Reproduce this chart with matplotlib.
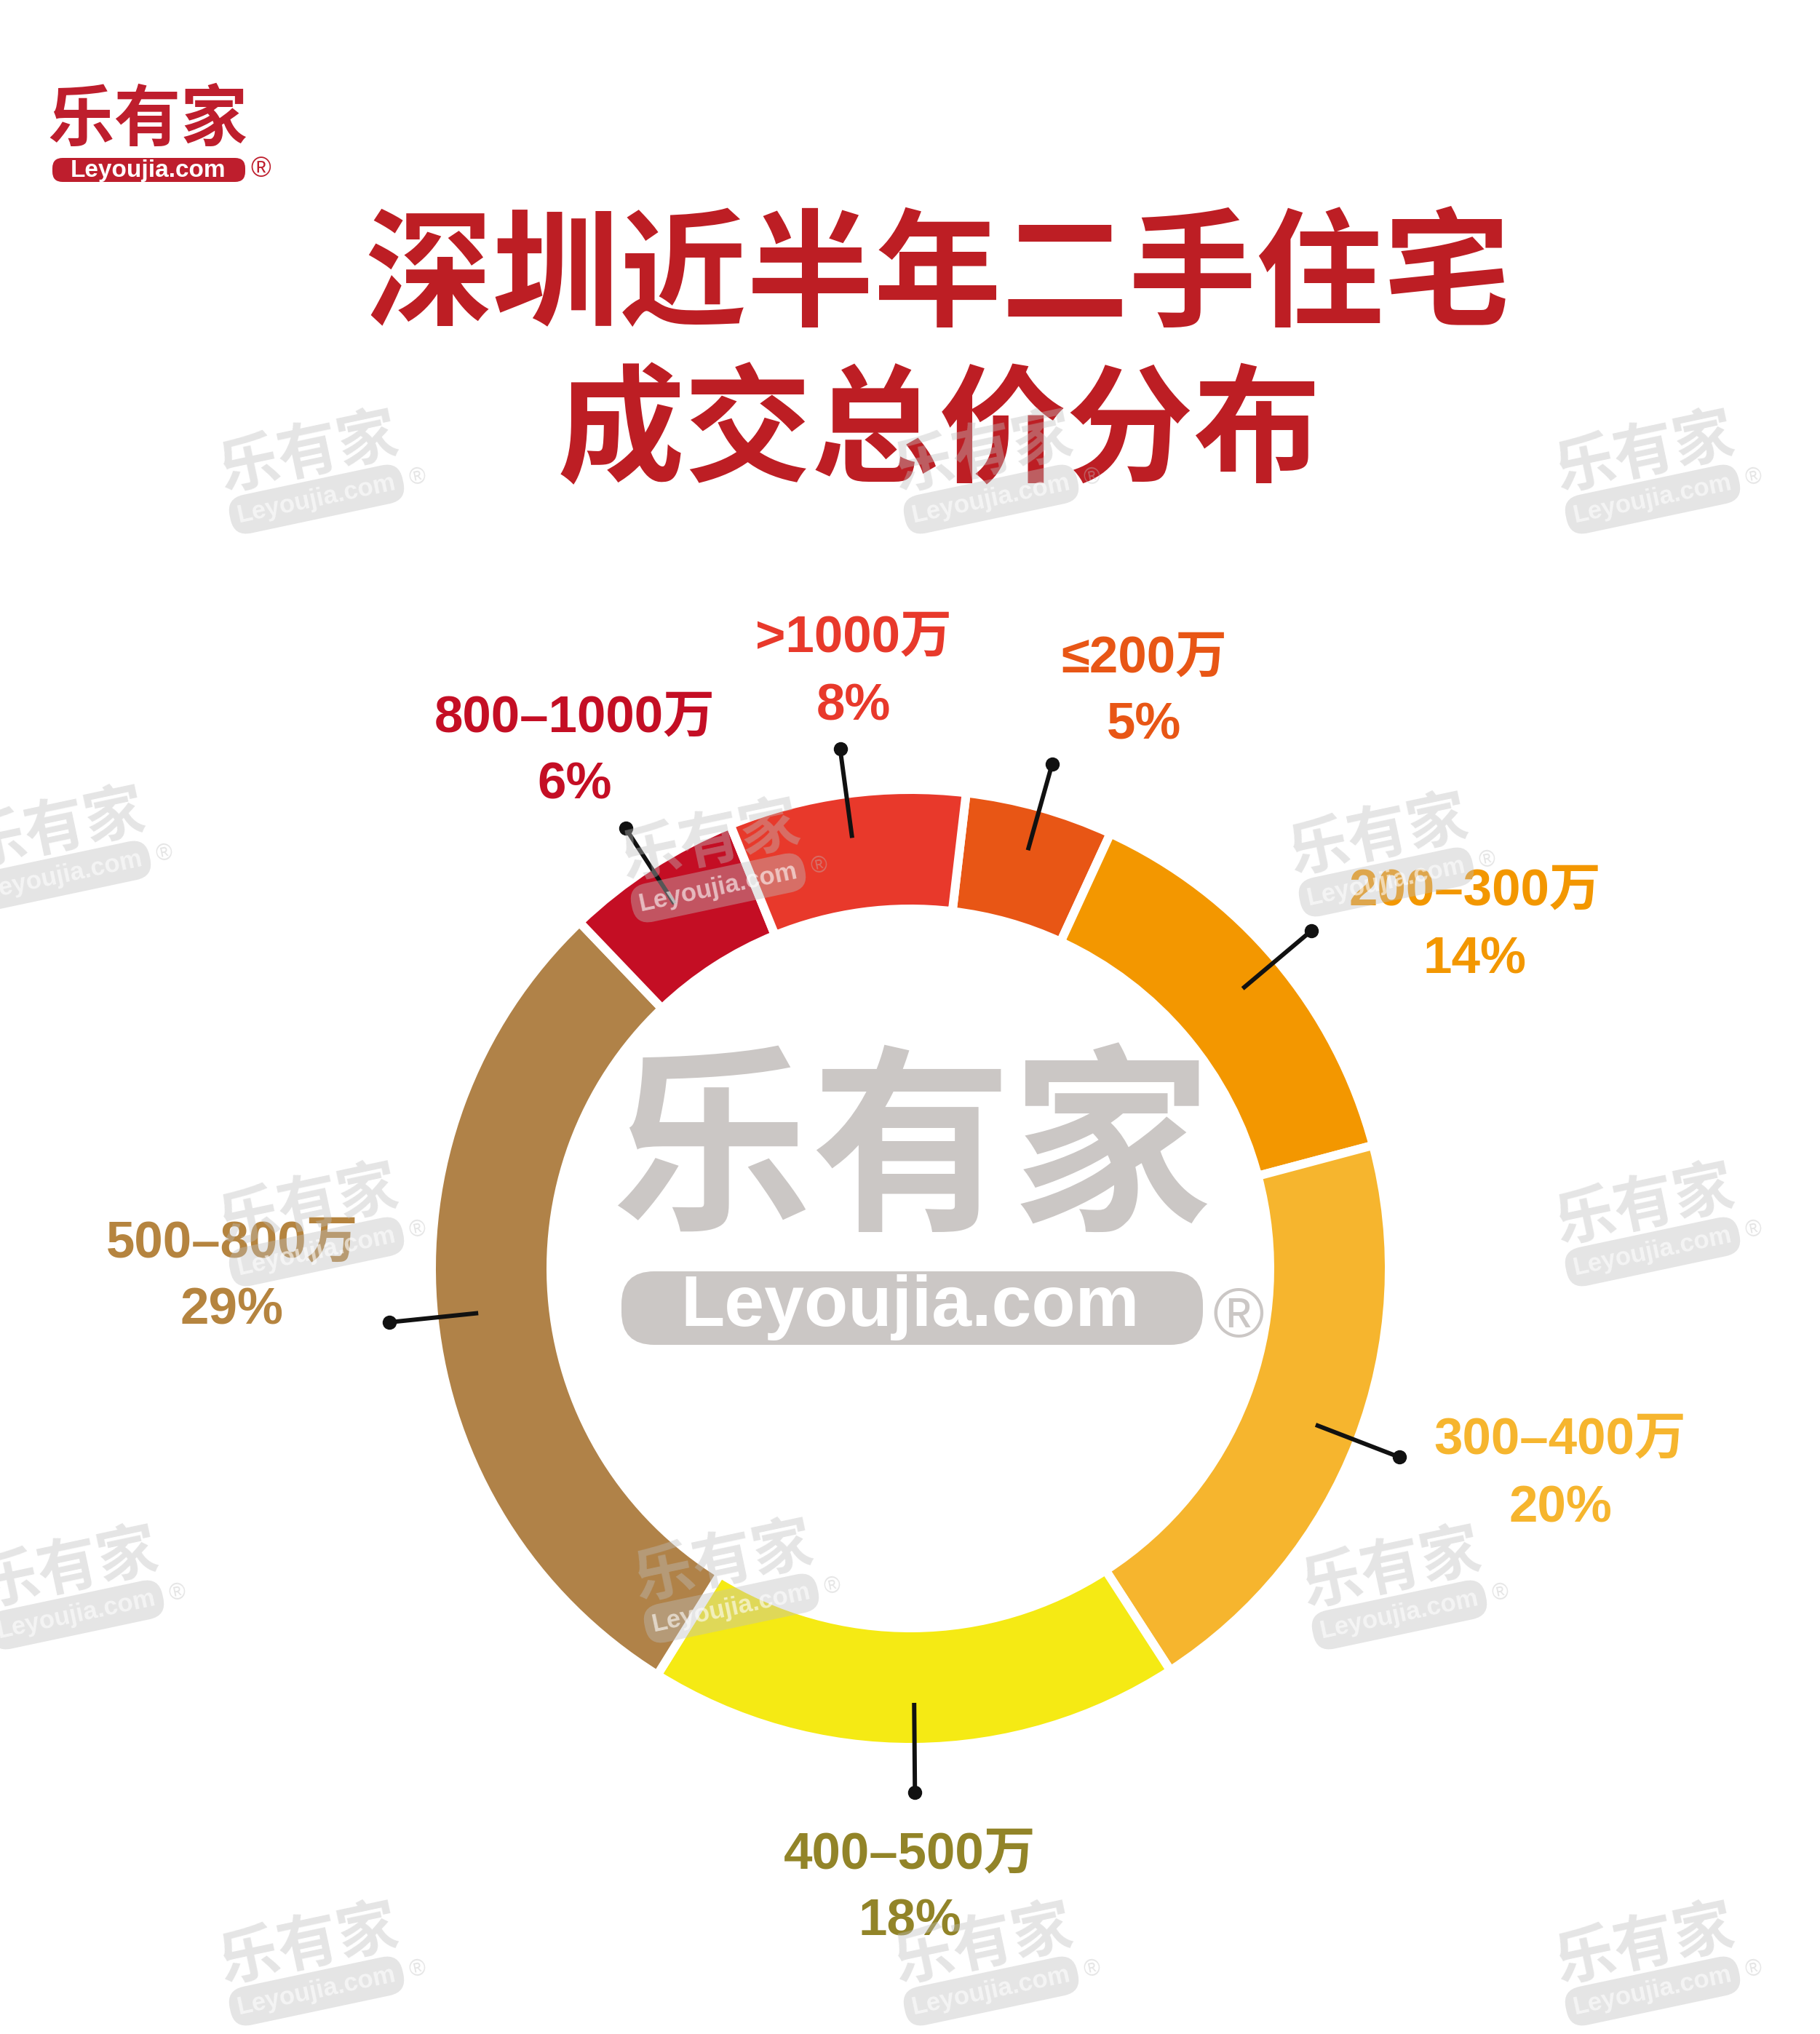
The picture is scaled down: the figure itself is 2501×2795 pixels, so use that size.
import numpy as np
import matplotlib.pyplot as plt
from matplotlib.patches import FancyBboxPatch

plt.rcParams['font.family'] = ['Liberation Sans', 'Noto Sans CJK SC']

W, H = 2501, 2795

# data, clockwise from the top
labels = ['≤200万', '200–300万', '300–400万', '400–500万', '500–800万', '800–1000万', '>1000万']
shares = [5, 14, 20, 18, 29, 6, 8]
pct_text = ['5%', '14%', '20%', '18%', '29%', '6%', '8%']
slice_colors = ['#E85615', '#F39700', '#F6B52E', '#F5EA14', '#B08248', '#C40E24', '#E8392B']
label_colors = ['#E85615', '#F39700', '#F6B52E', '#928428', '#B5843F', '#C40E24', '#E8392B']
# centre of first label line (px, y down)
label_pos = [(1572, 905), (2027, 1226), (2144, 1980), (1250, 2549), (319, 1709), (790, 987), (1173, 878)]

title1 = '深圳近半年二手住宅'
title2 = '成交总价分布'
red = '#BD1E24'


def Y(y):
    return H - y


fig = plt.figure(figsize=(W / 100, H / 100), dpi=100)
ax = fig.add_axes([0, 0, 1, 1])

cx, cy = 1251, 1743
r_out, r_in = 652, 500
gap = 12
wedges, _ = ax.pie(shares, colors=slice_colors, startangle=83.3, counterclock=False,
                   radius=r_out + gap / 2, center=(cx, Y(cy)),
                   wedgeprops=dict(width=r_out - r_in + gap, edgecolor='white', linewidth=gap * 0.72))
ax.set_xlim(0, W)
ax.set_ylim(0, H)
ax.set_aspect('equal')
ax.axis('off')

# leader lines and labels
for w, lab, pct, col, (lx, ly) in zip(wedges, labels, pct_text, label_colors, label_pos):
    a = np.deg2rad((w.theta1 + w.theta2) / 2)
    x1, y1 = cx + 597 * np.cos(a), Y(cy) + 597 * np.sin(a)
    x2, y2 = cx + 720 * np.cos(a), Y(cy) + 720 * np.sin(a)
    ax.plot([x1, x2], [y1, y2], color='#111111', lw=4.3, solid_capstyle='butt', zorder=4)
    ax.plot(x2, y2, 'o', ms=13, color='#111111', zorder=4)
    ax.text(lx, Y(ly), lab, fontsize=51, fontweight='bold', color=col, ha='center', va='center', zorder=6)
    ax.text(lx, Y(ly + 93), pct, fontsize=51, fontweight='bold', color=col, ha='center', va='center', zorder=6)

# title
ax.text(1289, Y(382), title1, fontsize=126, fontweight='heavy', color=red,
        ha='center', va='center', family='Noto Sans CJK SC')
ax.text(1291, Y(597), title2, fontsize=126, fontweight='heavy', color=red,
        ha='center', va='center', family='Noto Sans CJK SC')

# logo top left
ax.text(203, Y(166), '乐有家', fontsize=66, fontweight='bold', color='#BE1E2D',
        ha='center', va='center', family='Noto Sans CJK SC')
ax.add_patch(FancyBboxPatch((72, Y(250)), 265, 33, boxstyle='round,pad=0,rounding_size=14',
                            fc='#BE1E2D', ec='none'))
ax.text(204, Y(234), 'Leyoujia.com', fontsize=24, fontweight='bold', color='white',
        ha='center', va='center')
ax.text(358, Y(233), '®', fontsize=27, color='#BE1E2D', ha='center', va='center')

# big watermark in the hole
wm_big = '#CBC7C5'
ax.text(1253, Y(1589), '乐有家', fontsize=198, fontweight='bold', color=wm_big,
        ha='center', va='center', family='Noto Sans CJK SC', zorder=3)
ax.add_patch(FancyBboxPatch((854, Y(1848)), 799, 101, boxstyle='round,pad=0,rounding_size=45',
                            fc=wm_big, ec='none', zorder=3))
ax.text(1251, Y(1797), 'Leyoujia.com', fontsize=71, fontweight='bold', color='white',
        ha='center', va='center', zorder=3)
ax.text(1702, Y(1812), '®', fontsize=69, color=wm_big, ha='center', va='center', zorder=3)

# small tilted watermarks (bar centre, px)
marks = [(435, 686), (1362, 686), (2271, 686), (87, 1203), (987, 1220), (1905, 1212),
         (435, 1720), (2271, 1720), (105, 2219), (1005, 2210), (1923, 2219),
         (435, 2736), (1362, 2736), (2271, 2736)]
wm = '#bfbfbf'
rot = 12
t = np.deg2rad(rot)
u = np.array([np.cos(t), np.sin(t)])
v = np.array([np.sin(t), -np.cos(t)])
for mx, my in marks:
    base = np.array([mx, Y(my)])
    c = base + 3 * u - 64 * v
    ax.text(c[0], c[1], '乐有家', fontsize=60, fontweight='bold', color=wm, alpha=0.4,
            rotation=rot, rotation_mode='anchor', ha='center', va='center',
            family='Noto Sans CJK SC', zorder=8)
    ax.text(base[0], base[1], 'Leyoujia.com', fontsize=25, fontweight='bold', color='white',
            alpha=0.6, rotation=rot, rotation_mode='anchor', ha='center', va='center', zorder=8,
            bbox=dict(boxstyle='round,pad=0.3,rounding_size=0.7', fc=wm, ec='none', alpha=0.4))
    r = base + 142 * u
    ax.text(r[0], r[1], '®', fontsize=22, color=wm, alpha=0.4, rotation=rot,
            rotation_mode='anchor', ha='center', va='center', zorder=8)

fig.savefig('out.png', dpi=100, facecolor='white')
